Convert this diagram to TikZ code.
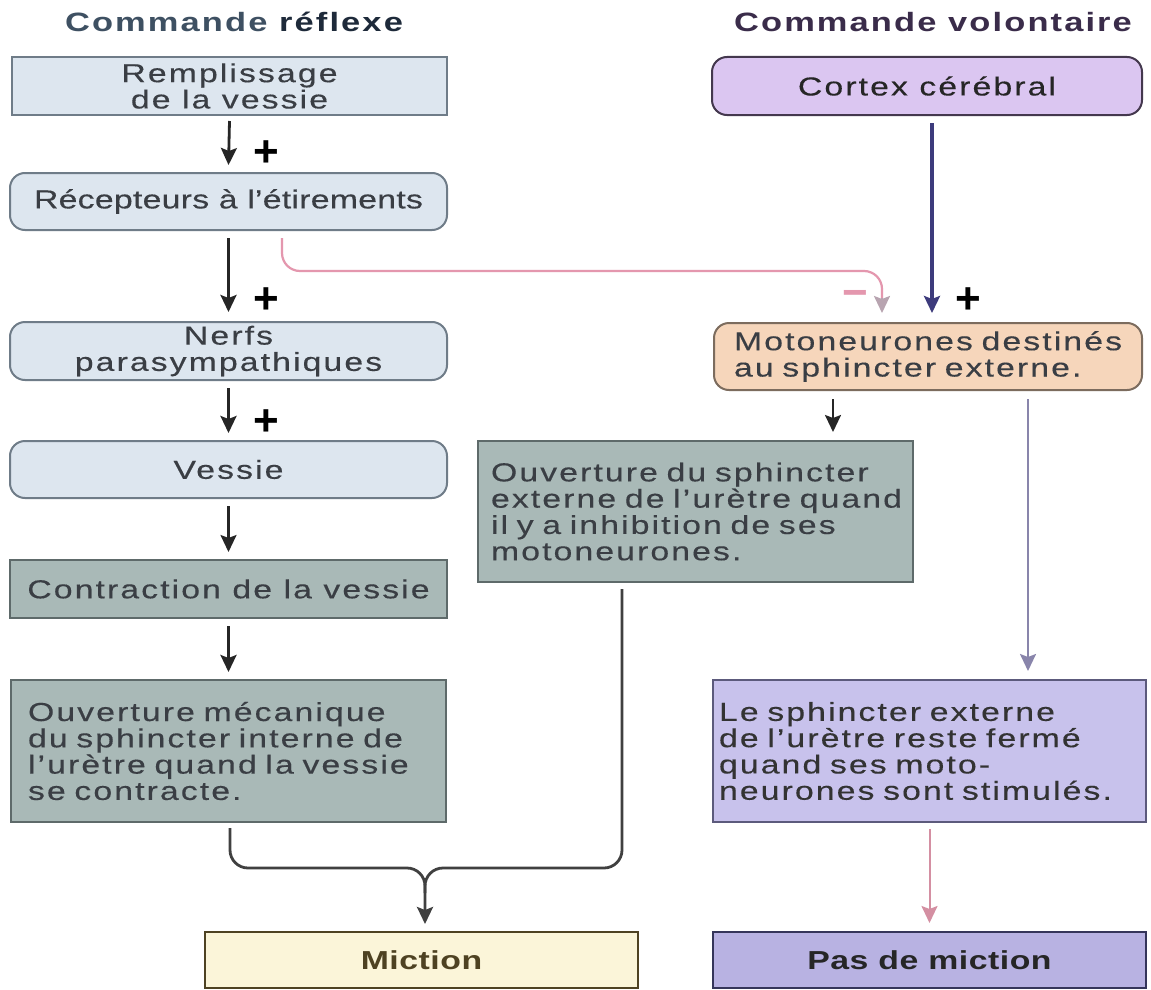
\documentclass[tikz,border=0pt]{standalone}
\usepackage{fontspec}
\setmainfont{Liberation Sans}
\newfontfamily\bodyf[FakeStretch=1.3,LetterSpace=8,FakeBold=0.3]{Liberation Sans}
\newfontfamily\bodyn[FakeStretch=1.3,LetterSpace=1,FakeBold=0.3]{Liberation Sans}
\newfontfamily\boldf[FakeStretch=1.3,LetterSpace=2]{Liberation Sans}
\newfontfamily\plusf{Liberation Sans}
\newfontfamily\titlef[FakeStretch=1.3,LetterSpace=8]{Liberation Sans}
\usetikzlibrary{arrows.meta}
\definecolor{txtc}{HTML}{3A3E44}
\definecolor{bluef}{HTML}{DDE6EF}
\definecolor{blued}{HTML}{6F7C88}
\definecolor{tealf}{HTML}{A9B9B7}
\definecolor{teald}{HTML}{5E6A6A}
\definecolor{creamf}{HTML}{FBF5D9}
\definecolor{creamd}{HTML}{4E4222}
\definecolor{lavf}{HTML}{DBC6F1}
\definecolor{lavd}{HTML}{44384E}
\definecolor{peachf}{HTML}{F6D6BB}
\definecolor{peachd}{HTML}{7C6C5E}
\definecolor{lilf}{HTML}{C8C2EC}
\definecolor{lild}{HTML}{5C5A7C}
\definecolor{pdmf}{HTML}{B8B2E2}
\definecolor{pdmd}{HTML}{35355A}
\definecolor{pinkc}{HTML}{E497AE}
\definecolor{pinktip}{HTML}{B8A4B0}
\definecolor{navyc}{HTML}{3D3B7C}
\definecolor{greypc}{HTML}{8985AB}
\definecolor{rosec}{HTML}{D48FA2}
\definecolor{titlea}{HTML}{3E5062}
\definecolor{titleb}{HTML}{1E2A3A}
\definecolor{titlec}{HTML}{3A2C4A}
\begin{document}
\begin{tikzpicture}[x=1pt,y=-1pt,
  body/.style={font=\bodyf\fontsize{26}{26.3}\selectfont, text=txtc},
  title/.style={font=\titlef\bfseries\fontsize{26.5}{30}\selectfont},
  box/.style={body, rectangle, line width=2pt, inner sep=0pt, align=center},
  bluebox/.style={box, draw=blued, fill=bluef},
  tealbox/.style={box, draw=teald, fill=tealf},
  tip/.style={-{Stealth[length=17pt,width=16pt,inset=3pt]}},
  arr/.style={line width=2.8pt, tip, draw=black!85},
  plus/.style={font=\plusf\bfseries\fontsize{44}{44}\selectfont, text=black, inner sep=0pt}
]
\useasboundingbox (0,0) rectangle (1151,990);
\fill[white] (0,0) rectangle (1151,990);

% titles
\node[title, text=titlea] (t1) at (234,22) {Commande \textcolor{titleb}{réflexe}};
\node[title, text=titlec] (t2) at (933,22) {Commande volontaire};

% left column
\node[bluebox, minimum width=435pt, minimum height=58pt] (B1) at (229.5,86) {Remplissage\\de la vessie};
\node[bluebox, font=\bodyn\fontsize{26}{26.3}\selectfont, rounded corners=15pt, minimum width=437pt, minimum height=57pt] (B2) at (228.5,201.5) {Récepteurs à l’étirements};
\node[bluebox, rounded corners=15pt, minimum width=437pt, minimum height=58pt] (B3) at (228.5,351) {Nerfs\\parasympathiques};
\node[bluebox, rounded corners=15pt, minimum width=437pt, minimum height=57pt] (B4) at (228.5,469.5) {Vessie};
\node[tealbox, minimum width=437pt, minimum height=58pt] (B5) at (228.5,589) {Contraction de la vessie};
\node[tealbox, align=left, text width=401pt, inner xsep=17pt, minimum height=142pt] (B6) at (228.5,751)
  {Ouverture mécanique\\du sphincter interne de\\l’urètre quand la vessie\\se contracte.};
\node[box, draw=creamd, fill=creamf, text=creamd, font=\boldf\bfseries\fontsize{26}{26.3}\selectfont, minimum width=433pt, minimum height=56pt] (M) at (421.5,960) {Miction};

% middle
\node[tealbox, align=left, text width=409pt, inner xsep=13pt, minimum height=141pt] (Mid) at (695.5,511.5)
  {Ouverture du sphincter\\externe de l’urètre quand\\il y a inhibition de ses\\motoneurones.};

% right column
\node[box, draw=lavd, fill=lavf, text=black!85, rounded corners=15pt, minimum width=430pt, minimum height=58pt] (C) at (927,86) {Cortex cérébral};
\node[box, draw=peachd, fill=peachf, rounded corners=15pt, align=left, text width=388pt, inner xsep=20pt, minimum height=67pt] (Mo) at (928,356.5)
  {Motoneurones destinés\\au sphincter externe.};
\node[box, draw=lild, fill=lilf, text=black!80, align=left, text width=421pt, inner xsep=6pt, minimum height=142pt] (LS) at (929.5,751)
  {Le sphincter externe\\de l’urètre reste fermé\\quand ses moto-\\neurones sont stimulés.};
\node[box, draw=pdmd, fill=pdmf, text=black!85, font=\boldf\bfseries\fontsize{26}{26.3}\selectfont, minimum width=433pt, minimum height=56pt] (P) at (929.5,960) {Pas de miction};

% left arrows
\draw[arr] ([yshift=-5pt]B1.south) -- ([yshift=7pt]B2.north);
\draw[arr] ([yshift=-7pt]B2.south) -- ([yshift=9pt]B3.north);
\draw[arr] ([yshift=-7pt]B3.south) -- ([yshift=7pt]B4.north);
\draw[arr, line width=2.2pt] ([yshift=-7pt]B4.south) -- ([yshift=7pt]B5.north);
\draw[arr] ([yshift=-7pt]B5.south) -- ([yshift=7pt]B6.north);
\node[plus] (p1) at (266,154) {+};
\node[plus] (p2) at (266,301) {+};
\node[plus] (p3) at (266,423) {+};

% pink inhibitory path
\draw[line width=2.2pt, pinkc, rounded corners=18pt]
  ([xshift=53.5pt,yshift=-7pt]B2.south) |- ([xshift=-46pt,yshift=51pt]Mo.north) -- ([xshift=-46pt,yshift=22pt]Mo.north);
\draw[line width=2.2pt, pinktip, tip] ([xshift=-46pt,yshift=24pt]Mo.north) -- ([xshift=-46pt,yshift=9pt]Mo.north);
\node[plus, text=pinkc] (m1) at (855,299) {−};

% cortex to motoneurones
\draw[arr, navyc, line width=3.2pt] ([xshift=5pt,yshift=-7pt]C.south) -- ([xshift=4pt,yshift=9pt]Mo.north);
\node[plus] (p4) at (968,301) {+};

% motoneurones outputs
\draw[arr, line width=2.2pt] ([xshift=-95pt,yshift=-8pt]Mo.south) -- ([xshift=137.5pt,yshift=8pt]Mid.north);
\draw[arr, greypc, line width=2pt] ([xshift=100pt,yshift=-8pt]Mo.south) -- ([xshift=98.5pt,yshift=8pt]LS.north);
\draw[arr, rosec, line width=2pt] ([yshift=-6pt]LS.south) -- ([yshift=8pt]P.north);

% merge to Miction
\coordinate (J) at (425,868);
\draw[arr, draw=black!75, rounded corners=18pt] ([xshift=1.5pt,yshift=-5pt]B6.south) |- (J) -- ([xshift=3.5pt,yshift=7pt]M.north);
\draw[line width=2.8pt, black!75, rounded corners=18pt] ([xshift=-73.5pt,yshift=-6pt]Mid.south) |- (J) -- ++(0,25);
\end{tikzpicture}
\end{document}
